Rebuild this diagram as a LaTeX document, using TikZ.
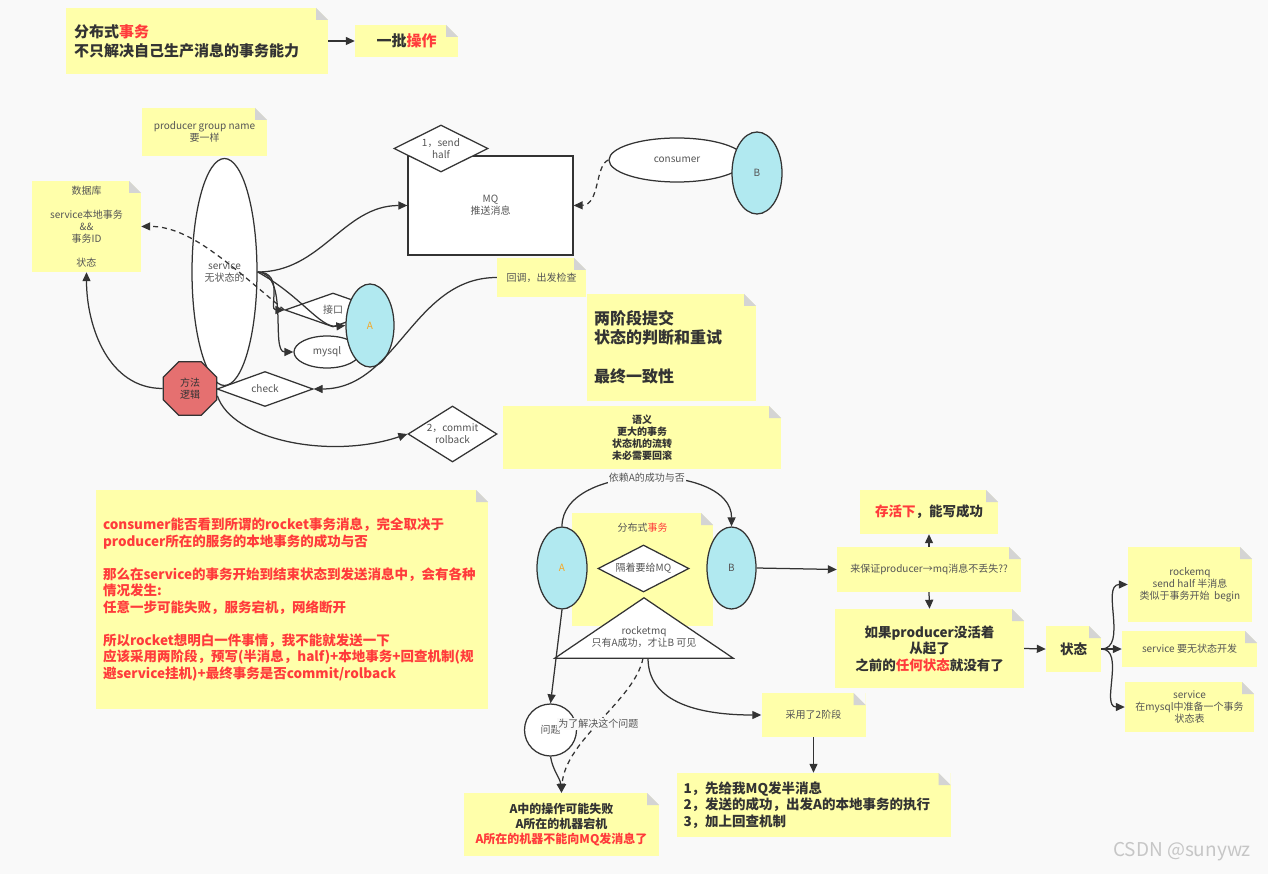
\documentclass[tikz,border=0pt]{standalone}
\usepackage{fontspec}
\setmainfont{Noto Sans CJK SC}
\usetikzlibrary{shapes.geometric,arrows.meta,backgrounds,positioning}
\definecolor{notey}{RGB}{255,255,170}
\definecolor{foldc}{RGB}{212,212,212}
\definecolor{bgc}{RGB}{249,249,249}
\definecolor{linec}{RGB}{51,51,51}
\definecolor{txtc}{RGB}{51,51,51}
\definecolor{softtxt}{RGB}{85,85,85}
\definecolor{hotred}{RGB}{255,59,59}
\definecolor{skyc}{RGB}{177,233,240}
\definecolor{octred}{RGB}{229,112,112}
\definecolor{aorange}{RGB}{245,166,35}
\newcommand{\hot}[1]{\textcolor{hotred}{#1}}
\tikzset{
  note/.style={fill=notey,inner sep=0pt,align=center,text=softtxt,
               font=\fontsize{10}{12}\selectfont,
               path picture={
                 \fill[bgc] (path picture bounding box.north east) -- ++(-12pt,0pt) -- ++(12pt,-12pt) -- cycle;
                 \fill[foldc] (path picture bounding box.north east) ++(-12pt,0pt) -- ++(12pt,-12pt) -- ++(-12pt,0pt) -- cycle;
               }},
  bignote/.style={note,text=txtc,font=\fontsize{13.5}{16.5}\selectfont\bfseries},
  shapeline/.style={draw=linec,line width=1.25pt},
  wellipse/.style={ellipse,shapeline,fill=white,inner sep=0pt,text=softtxt,
                   font=\fontsize{10}{12}\selectfont,align=center},
  sky/.style={ellipse,shapeline,fill=skyc,inner sep=0pt,text=softtxt,
              font=\fontsize{10}{12}\selectfont},
  gate/.style={diamond,shapeline,fill=white,inner sep=0pt,text=softtxt,
               font=\fontsize{10}{12}\selectfont,align=center},
  tag/.style={fill=bgc,inner sep=1pt,text=softtxt,font=\fontsize{10}{12}\selectfont},
  arr/.style={-{Triangle[length=9pt,width=8pt]},draw=linec,line width=1.25pt},
  darr/.style={arr,dash pattern=on 5pt off 4pt},
}

\begin{document}
\begin{tikzpicture}[x=1pt,y=-1pt]
        \useasboundingbox (0,0) rectangle (1268,874);
        \begin{scope}[on background layer]
          \fill[bgc] (0,0) rectangle (1268,874);
        \end{scope}
        % top notes
        \node[note,text=txtc,font=\fontsize{15}{19}\selectfont\bfseries,minimum width=262pt,minimum height=66pt,
              text width=246pt,align=left] (scope1) at (197,41) {分布式\hot{事务}\\不只解决自己生产消息的事务能力};
        \node[note,text=txtc,font=\fontsize{15}{19}\selectfont\bfseries,minimum width=103pt,minimum height=32pt] (batch) at (406.5,41) {一批\hot{操作}};
        % producer side
        \node[wellipse,minimum width=65pt,minimum height=227pt] (svc) at (224.5,272) {service\\无状态的};
        \node[note,minimum width=125pt,minimum height=48pt] (grp) at (204.5,132) {producer group name\\要一样};
        \node[note,minimum width=109pt,minimum height=91pt] (db) at (86.5,226.5) {数据库\\[12pt]service本地事务\\\&\&\\事务ID\\[12pt]状态};
        \node[gate,aspect=2.74,minimum width=96pt,minimum height=35pt] (check) at (265,389) {check};
        \node[regular polygon,regular polygon sides=8,minimum size=58pt,inner sep=0pt,shapeline,fill=octred,
              text=txtc,font=\fontsize{10}{12}\selectfont,align=center] (logic) at (190,388.5) {方法\\逻辑};
        \node[gate,aspect=2.8,minimum width=96pt,minimum height=34pt] (api) at (333,310) {接口};
        \node[wellipse,minimum width=66pt,minimum height=32pt] (mysql) at (327,352) {mysql};
        \node[sky,minimum width=48pt,minimum height=83pt,text=aorange] (atop) at (370,325.5) {A};
        % mq side
        \node[rectangle,shapeline,fill=white,minimum width=165pt,minimum height=99pt,text=softtxt,
              font=\fontsize{10}{12}\selectfont,align=center] (mq) at (490.5,205.5) {MQ\\推送消息};
        \node[gate,aspect=2,minimum width=94pt,minimum height=47pt] (half) at (441,148.5) {1，send\\half};
        \node[wellipse,minimum width=136pt,minimum height=44pt] (cons) at (677,160) {consumer};
        \node[sky,minimum width=50pt,minimum height=82pt] (btop) at (757,173) {B};
        \node[note,minimum width=89pt,minimum height=39pt] (cb) at (541.5,277.5) {回调，出发检查};
        \node[note,text=txtc,font=\fontsize{16}{19.5}\selectfont\bfseries,minimum width=169pt,minimum height=107pt,
              text width=155pt,align=left] (twophase) at (671.5,347.5) {两阶段提交\\状态的判断和重试\\[19.5pt]最终一致性};
        \node[gate,aspect=1.6,minimum width=89pt,minimum height=56pt] (commit) at (452.5,434) {2，commit\\rolback};
        \node[note,text=txtc,font=\fontsize{10}{12}\selectfont\bfseries,minimum width=278pt,minimum height=63pt] (sem) at (642,437.5)
              {语义\\更大的事务\\状态机的流转\\未必需要回滚};
        % explanation
        \node[note,text=hotred,font=\fontsize{13.5}{16.5}\selectfont\bfseries,minimum width=392pt,minimum height=219pt,
              text width=378pt,align=left] (why) at (292,599.5)
              {consumer能否看到所谓的rocket事务消息，完全取决于\\producer所在的服务的本地事务的成功与否\\[16.5pt]
               那么在service的事务开始到结束状态到发送消息中，会有各种\\情况发生:\\任意一步可能失败，服务宕机，网络断开\\[16.5pt]
               所以rocket想明白一件事情，我不能就发送一下\\应该采用两阶段，预写(半消息，half)+本地事务+回查机制(规\\避service挂机)+最终事务是否commit/rolback};
        % distributed transaction
        \node[note,minimum width=141pt,minimum height=113pt] (dist) at (642.5,569.5) {};
        \node[text=softtxt,font=\fontsize{10}{12}\selectfont,inner sep=0pt,below=10pt of dist.north] (distlbl) {分布式\hot{事务}};
        \node[sky,minimum width=50pt,minimum height=82pt,text=aorange] (abot) at (562,568) {A};
        \node[sky,minimum width=49pt,minimum height=82pt] (bbot) at (731.5,568) {B};
        \node[gate,aspect=1.94,minimum width=91pt,minimum height=47pt] (mqgate) at (643.5,568.5) {隔着要给MQ};
        \node[minimum width=178pt,minimum height=60pt,inner sep=0pt] (rmq) at (644,628) {};
        \draw[shapeline,fill=white] (rmq.south west) -- (rmq.north) -- (rmq.south east) -- cycle;
        \node[text=softtxt,font=\fontsize{10}{12}\selectfont,align=center] (rmqlbl) at (644,637) {rocketmq\\只有A成功，才让B 可见};
        % right side
        \node[note,minimum width=184pt,minimum height=45pt] (keep) at (929,569.5) {来保证producer→mq消息不丢失??};
        \node[bignote,minimum width=138pt,minimum height=44pt] (alive) at (929,512) {\hot{存活下}，能写成功};
        \node[bignote,minimum width=189pt,minimum height=79pt] (restart) at (929.5,648.5) {如果producer没活着\\从起了\\之前的\hot{任何状态}就没有了};
        \node[bignote,minimum width=55pt,minimum height=46pt] (state) at (1073.5,649) {状态};
        \node[note,minimum width=124pt,minimum height=75pt] (rk) at (1190,584.5) {rockemq\\send half 半消息\\类似于事务开始\ \ begin};
        \node[note,minimum width=135pt,minimum height=36pt] (stateless) at (1189.5,649) {service 要无状态开发};
        \node[note,minimum width=129pt,minimum height=50pt] (tbl) at (1189.5,707) {service\\在mysql中准备一个事务\\状态表};
        % bottom
        \node[circle,shapeline,fill=white,minimum size=52pt,inner sep=0pt,text=softtxt,
              font=\fontsize{10}{12}\selectfont] (issue) at (550.5,730) {问题};
        \node[note,text=txtc,font=\fontsize{12}{15}\selectfont\bfseries,minimum width=195pt,minimum height=63pt] (fail) at (561.5,824.5)
              {A中的操作可能失败\\A所在的机器宕机\\\hot{A所在的机器不能向MQ发消息了}};
        \node[note,minimum width=104pt,minimum height=44pt] (adopt) at (813.5,715) {采用了2阶段};
        \node[bignote,minimum width=274pt,minimum height=64pt,text width=260pt,align=left] (steps) at (813.5,805)
              {1，先给我MQ发半消息\\2，发送的成功，出发A的本地事务的执行\\3，加上回查机制};
        \node[text=gray!45,font=\fontsize{19}{22}\selectfont] (mark) at (1182,852) {CSDN @sunywz};

        % connectors
        \draw[arr] (scope1.east) -- (batch.west);
        \draw[arr] (svc.east) to[out=0,in=180] (mq.west);
        \draw[arr] (svc.east) .. controls (285,272) and (268,310) .. (api.west);
        \draw[arr] (svc.east) .. controls (290,274) and (270,352) .. (mysql.west);
        \draw[arr] (svc.east) .. controls (300,295) and (320,328) .. (atop.west);
        \draw[darr] (api.west) .. controls (230,265) and (190,226) .. (db.east);
        \draw[arr] (logic.west) to[out=180,in=-90] (db.south);
        \draw[arr] (cb.west) to[out=180,in=0] (check.east);
        \draw[arr] (logic.-15) .. controls (232,440) and (330,460) .. (commit.west);
        \draw[darr] (cons.west) .. controls (595,165) and (600,205) .. (mq.east);
        \draw[arr] (abot.north) .. controls (562,462) and (732,462) .. node[tag] {依赖A的成功与否} (bbot.north);
        \draw[arr] (bbot.east) -- (keep.west);
        \draw[arr] (keep.north) -- (alive.south);
        \draw[arr] (keep.south) -- (restart.north);
        \draw[arr] (restart.east) -- (state.west);
        \draw[arr] (state.east) to[out=0,in=180] (rk.west);
        \draw[arr] (state.east) -- (stateless.west);
        \draw[arr] (state.east) to[out=0,in=180] (tbl.west);
        \draw[arr] (abot.south) -- (issue.north);
        \draw[arr] (issue.south) to[out=-80,in=95] (fail.north);
        \draw[darr] ([xshift=-1pt]rmq.south) .. controls (635,700) and (565,740) .. node[tag,pos=0.52] {为了解决这个问题} (fail.north);
        \draw[arr] ([xshift=4pt]rmq.south) to[out=-90,in=180] (adopt.west);
        \draw[arr] (adopt.south) -- (steps.north);
      \end{tikzpicture}
\end{document}
